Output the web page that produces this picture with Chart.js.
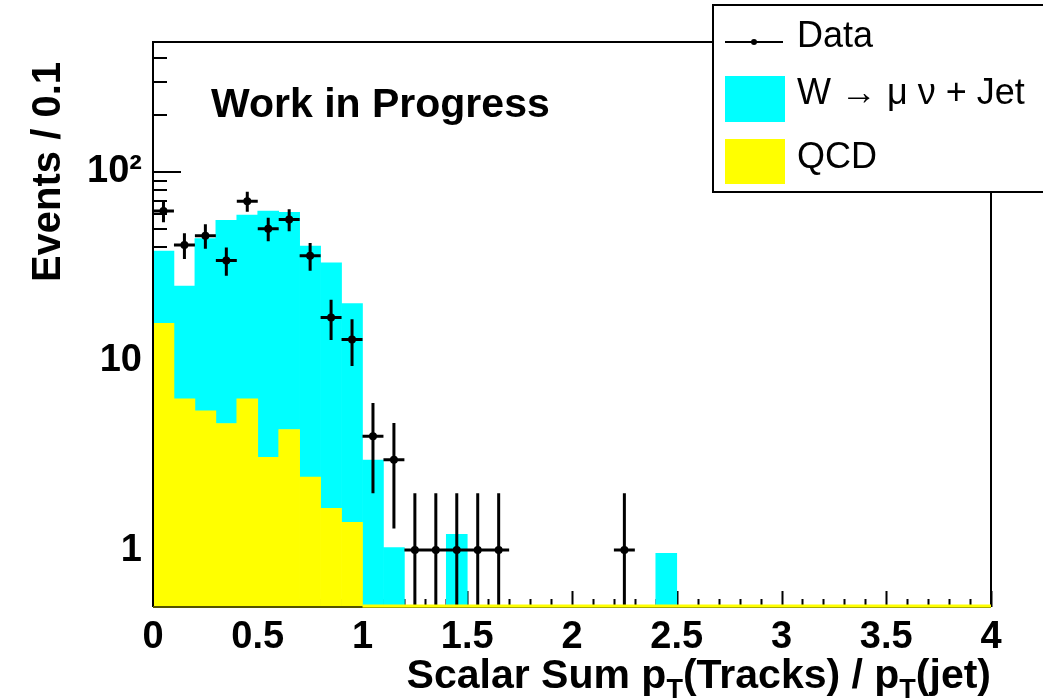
<!DOCTYPE html>
<html>
<head>
<meta charset="utf-8">
<script src="https://cdn.jsdelivr.net/npm/chart.js@4.4.0/dist/chart.umd.min.js"></script>
<style>
  html, body { margin: 0; padding: 0; background: #fff; }
  #wrap { width: 1043px; height: 700px; }
</style>
</head>
<body>
<div id="wrap"><canvas id="histChart" width="1043" height="700"></canvas></div>
<script>
// Histogram bins, width 0.1 from 0 to 4 (bin centres)
const binWidth = 0.1;
const binCenters = [
  0.05, 0.15, 0.25, 0.35, 0.45, 0.55, 0.65, 0.75, 0.85, 0.95,
  1.05, 1.15, 1.25, 1.35, 1.45, 1.55, 1.65, 1.75, 1.85, 1.95,
  2.05, 2.15, 2.25, 2.35, 2.45, 2.55, 2.65, 2.75, 2.85, 2.95,
  3.05, 3.15, 3.25, 3.35, 3.45, 3.55, 3.65, 3.75, 3.85, 3.95
];

// QCD (yellow, bottom of stack)
const qcdCounts = [
  15.8, 6.3, 5.45, 4.67, 6.3, 3.09, 4.34, 2.43, 1.66, 1.4,
  0, 0, 0, 0, 0, 0, 0, 0, 0, 0,
  0, 0, 0, 0, 0, 0, 0, 0, 0, 0,
  0, 0, 0, 0, 0, 0, 0, 0, 0, 0
];

// W -> mu nu + Jet (cyan, stacked on QCD)
const wjetCounts = [
  22.3, 18.6, 38.9, 50.7, 52.8, 59.0, 56.8, 38.1, 31.4, 18.7,
  2.99, 1.03, 0, 0, 1.21, 0, 0, 0, 0, 0,
  0, 0, 0, 0, 0.96, 0, 0, 0, 0, 0,
  0, 0, 0, 0, 0, 0, 0, 0, 0, 0
];

// Data points and their errors (null = empty bin)
const dataCounts = [
  62, 41, 46, 34, 70, 50, 56, 36, 17, 13,
  4, 3, 1, 1, 1, 1, 1, null, null, null,
  null, null, 1, null, null, null, null, null, null, null,
  null, null, null, null, null, null, null, null, null, null
];
const dataErrors = [
  7.9, 6.4, 6.8, 5.8, 8.4, 7.1, 7.5, 6.0, 4.1, 3.6,
  2.0, 1.7, 1, 1, 1, 1, 1, null, null, null,
  null, null, 1, null, null, null, null, null, null, null,
  null, null, null, null, null, null, null, null, null, null
];

const xTickValues = [0, 0.5, 1, 1.5, 2, 2.5, 3, 3.5, 4];
const xTickLabels = ['0', '0.5', '1', '1.5', '2', '2.5', '3', '3.5', '4'];
const yTickValues = [1, 10, 100];
const yTickLabels = ['1', '10', '10\u00b2'];

const FONT = '"Liberation Sans", Arial, Helvetica, sans-serif';
const CYAN = '#00ffff';
const YELLOW = '#ffff00';

// ROOT-like frame, inward ticks, error bars, titles and legend
const rootStyle = {
  id: 'rootStyle',
  beforeDatasetsDraw(chart) {
    const { ctx, chartArea: a, scales: { x, y } } = chart;
    ctx.save();
    ctx.strokeStyle = '#000';
    ctx.lineWidth = 2;
    ctx.beginPath();
    // x ticks point up from the bottom
    for (let i = 0; i <= 40; i++) {
      const px = Math.round(x.getPixelForValue(i * binWidth)) + 0.5;
      const len = i % 5 === 0 ? 16 : 8;
      ctx.moveTo(px, a.bottom);
      ctx.lineTo(px, a.bottom - len);
    }
    // y ticks point right from the left
    for (let d = -1; d <= 2; d++) {
      for (let m = 1; m <= 9; m++) {
        const v = m * Math.pow(10, d);
        if (v < y.min || v > y.max) continue;
        const py = Math.round(y.getPixelForValue(v));
        ctx.moveTo(a.left, py);
        ctx.lineTo(a.left + (m === 1 ? 28 : 14), py);
      }
    }
    ctx.stroke();
    ctx.restore();
  },
  afterDatasetsDraw(chart) {
    const { ctx, chartArea: a, scales: { x, y } } = chart;
    ctx.save();
    ctx.beginPath();
    ctx.rect(a.left, a.top, a.right - a.left, a.bottom - a.top);
    ctx.clip();
    ctx.strokeStyle = '#000';
    ctx.lineWidth = 3;
    ctx.beginPath();
    dataCounts.forEach((n, i) => {
      if (n === null) return;
      const err = dataErrors[i];
      const px = x.getPixelForValue(binCenters[i]);
      const py = y.getPixelForValue(n);
      const hi = y.getPixelForValue(n + err);
      const lo = n - err > y.min ? y.getPixelForValue(n - err) : a.bottom;
      ctx.moveTo(px, hi);
      ctx.lineTo(px, lo);
      ctx.moveTo(x.getPixelForValue(binCenters[i] - binWidth / 2), py);
      ctx.lineTo(x.getPixelForValue(binCenters[i] + binWidth / 2), py);
    });
    ctx.stroke();
    ctx.restore();

    // frame
    ctx.save();
    ctx.strokeStyle = '#000';
    ctx.lineWidth = 2;
    ctx.beginPath();
    ctx.moveTo(a.left, a.bottom);
    ctx.lineTo(a.left, a.top);
    ctx.lineTo(a.right, a.top);
    ctx.lineTo(a.right, a.bottom);
    ctx.stroke();
    ctx.strokeStyle = '#555500';
    ctx.beginPath();
    ctx.moveTo(a.left, a.bottom);
    ctx.lineTo(a.right, a.bottom);
    ctx.stroke();
    // QCD outline sitting on the bottom where it is empty
    ctx.strokeStyle = YELLOW;
    ctx.lineWidth = 3;
    ctx.beginPath();
    qcdCounts.forEach((v, i) => {
      if (v > 0) return;
      ctx.moveTo(x.getPixelForValue(binCenters[i] - binWidth / 2), a.bottom - 1);
      ctx.lineTo(x.getPixelForValue(binCenters[i] + binWidth / 2), a.bottom - 1);
    });
    ctx.stroke();
    ctx.restore();
  },
  afterDraw(chart) {
    const { ctx, chartArea: a } = chart;
    ctx.save();
    ctx.fillStyle = '#000';

    // label
    ctx.font = 'bold 41px ' + FONT;
    ctx.textAlign = 'left';
    ctx.textBaseline = 'alphabetic';
    ctx.fillText('Work in Progress', 211, 117);

    // x title with subscripts, right aligned to the frame
    const parts = [['Scalar Sum p', false], ['T', true], ['(Tracks) / p', false], ['T', true], ['(jet)', false]];
    const big = 'bold 41px ' + FONT;
    const small = 'bold 27px ' + FONT;
    let total = 0;
    parts.forEach(([t, sub]) => { ctx.font = sub ? small : big; total += ctx.measureText(t).width; });
    let cx = a.right - total;
    parts.forEach(([t, sub]) => {
      ctx.font = sub ? small : big;
      ctx.fillText(t, cx, sub ? 698 : 688);
      cx += ctx.measureText(t).width;
    });

    // y title
    ctx.save();
    ctx.translate(60, 62);
    ctx.rotate(-Math.PI / 2);
    ctx.font = 'bold 40px ' + FONT;
    ctx.textAlign = 'right';
    ctx.fillText('Events / 0.1', 0, 0);
    ctx.restore();

    // legend box
    const ds = chart.data.datasets;
    ctx.fillStyle = '#fff';
    ctx.fillRect(713, 5, 340, 187);
    ctx.strokeStyle = '#000';
    ctx.lineWidth = 2;
    ctx.strokeRect(713, 5, 340, 187);
    ctx.beginPath();
    ctx.moveTo(725, 42);
    ctx.lineTo(783, 42);
    ctx.stroke();
    ctx.fillStyle = '#000';
    ctx.beginPath();
    ctx.arc(754, 42, 3, 0, Math.PI * 2);
    ctx.fill();
    ctx.fillStyle = ds[2].backgroundColor;
    ctx.fillRect(725, 76, 60, 46);
    ctx.fillStyle = ds[1].backgroundColor;
    ctx.fillRect(725, 139, 60, 45);
    ctx.fillStyle = '#000';
    ctx.font = '36px ' + FONT;
    ctx.fillText(ds[0].label, 797, 47);
    ctx.fillText(ds[2].label, 797, 104);
    ctx.fillText(ds[1].label, 797, 168);
    ctx.restore();
  }
};

new Chart(document.getElementById('histChart'), {
  type: 'bar',
  data: {
    datasets: [
      {
        type: 'scatter',
        label: 'Data',
        data: binCenters.map((c, i) => ({ x: c, y: dataCounts[i] })),
        backgroundColor: '#000',
        borderColor: '#000',
        pointRadius: 4,
        pointBorderWidth: 0,
        order: 0
      },
      {
        label: 'QCD',
        data: binCenters.map((c, i) => ({ x: c, y: qcdCounts[i] })),
        backgroundColor: YELLOW,
        borderWidth: 0,
        barPercentage: 1,
        categoryPercentage: 1,
        order: 1
      },
      {
        label: 'W \u2192 \u03bc \u03bd + Jet',
        data: binCenters.map((c, i) => ({ x: c, y: wjetCounts[i] })),
        backgroundColor: CYAN,
        borderWidth: 0,
        barPercentage: 1,
        categoryPercentage: 1,
        order: 2
      }
    ]
  },
  options: {
    responsive: false,
    animation: false,
    events: [],
    layout: { padding: { top: 42, right: 52, left: 0, bottom: 0 } },
    plugins: {
      legend: { display: false },
      tooltip: { enabled: false }
    },
    scales: {
      x: {
        type: 'linear',
        min: 0,
        max: 4,
        stacked: true,
        offset: false,
        grid: { display: false, drawTicks: false },
        border: { display: false },
        ticks: {
          color: '#000',
          font: { family: FONT, size: 38, weight: 'bold' },
          padding: 8,
          maxRotation: 0,
          autoSkip: false,
          callback: v => xTickLabels[xTickValues.indexOf(v)]
        },
        afterBuildTicks: s => { s.ticks = xTickValues.map(v => ({ value: v })); },
        afterFit: s => { s.height = 93; }
      },
      y: {
        type: 'logarithmic',
        min: 0.5,
        max: 486,
        stacked: true,
        grid: { display: false, drawTicks: false },
        border: { display: false },
        ticks: {
          color: '#000',
          font: { family: FONT, size: 38, weight: 'bold' },
          padding: 11,
          autoSkip: false,
          callback: v => yTickLabels[yTickValues.indexOf(v)]
        },
        afterBuildTicks: s => { s.ticks = yTickValues.map(v => ({ value: v })); },
        afterFit: s => { s.width = 153; }
      }
    }
  },
  plugins: [rootStyle]
});
</script>
</body>
</html>
